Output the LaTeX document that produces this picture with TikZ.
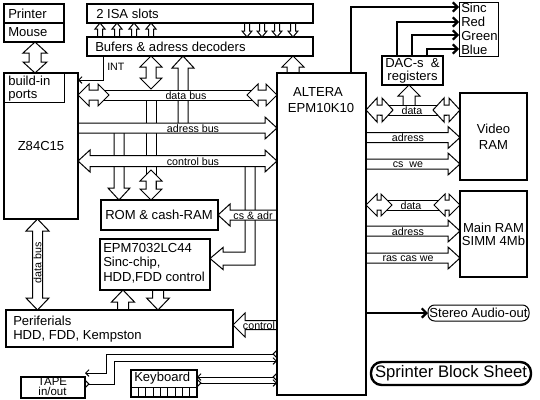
\documentclass[tikz,border=0pt]{standalone}
\usepackage{fontspec}
\setmainfont{Liberation Sans}
\usetikzlibrary{calc,arrows.meta,backgrounds}
% single fat arrow: tail, tip, head length, head half width, shaft half width (px)
\newcommand\fatone[5]{%
  \coordinate (fT) at (#1);
  \coordinate (fH) at (#2);
  \coordinate (fN) at ($(fH)!#3*0.75pt!(fT)$);
  \filldraw[fat] ($(fT)!#5*0.75pt!90:(fH)$) -- ($(fN)!#5*0.75pt!90:(fH)$) -- ($(fN)!#4*0.75pt!90:(fH)$) -- (fH) -- ($(fN)!#4*0.75pt!-90:(fH)$) -- ($(fN)!#5*0.75pt!-90:(fH)$) -- ($(fT)!#5*0.75pt!-90:(fH)$);
}
% double fat arrow: tip P, tip Q, head length, head half width, shaft half width (px)
\newcommand\fattwo[5]{%
  \coordinate (fP) at (#1);
  \coordinate (fQ) at (#2);
  \coordinate (fA) at ($(fP)!#3*0.75pt!(fQ)$);
  \coordinate (fB) at ($(fQ)!#3*0.75pt!(fP)$);
  \filldraw[fat] (fP) -- ($(fA)!#4*0.75pt!90:(fQ)$) -- ($(fA)!#5*0.75pt!90:(fQ)$) -- ($(fB)!#5*0.75pt!-90:(fP)$) -- ($(fB)!#4*0.75pt!-90:(fP)$) -- (fQ) -- ($(fB)!#4*0.75pt!90:(fP)$) -- ($(fB)!#5*0.75pt!90:(fP)$) -- ($(fA)!#5*0.75pt!-90:(fQ)$) -- ($(fA)!#4*0.75pt!-90:(fQ)$) -- cycle;
}
\begin{document}
\begin{tikzpicture}[x=0.75pt,y=-0.75pt,
  tb/.style={draw, line width=1.8pt, inner sep=0pt, outer sep=0pt},
  tn/.style={draw, line width=0.75pt, inner sep=0pt, outer sep=0pt},
  bx/.style 2 args={anchor=north west, minimum width=#1*0.75pt, minimum height=#2*0.75pt},
  lbl/.style={inner sep=0pt, font=\fontsize{9.8}{11}\selectfont},
  slbl/.style={inner sep=0pt, font=\fontsize{8}{9}\selectfont},
  fat/.style={draw, fill=white, line width=0.75pt, line join=miter},
  wire/.style={line width=0.75pt},
  heavy/.style={line width=1.6pt, -{Straight Barb[length=3.5pt 0,width=7pt 0]}},
  >={Straight Barb[length=2.5pt 0,width=5pt 0]}]
\useasboundingbox (0,0) rectangle (540,400);

% ---------- boxes ----------
\node[tb,bx={60}{19}] (printer) at (4,4) {};
\node[tb,bx={60}{19}] (mouse) at (4,23) {};
\node[tb,bx={74}{146},font=\fontsize{9.8}{11}\selectfont] (z84) at (4,73) {Z84C15};
\node[tn,bx={60}{29}] (ports) at (4,73) {};
\node[tb,bx={226}{19}] (isa) at (87,4) {};
\node[tb,bx={226}{19}] (bufers) at (87,37) {};
\node[tb,bx={89}{322}] (altera) at (277,73) {};
\node[tb,bx={117}{30}] (rom) at (101,200) {};
\node[tb,bx={110}{51}] (epm) at (100,239) {};
\node[tb,bx={227}{37}] (peri) at (6,310) {};
\node[tb,bx={64}{21}] (tape) at (21,377) {};
\node[tb,bx={66}{27}] (kbd) at (131,370) {};
\node[tb,bx={67}{87},align=center,font=\fontsize{9.8}{12}\selectfont] (video) at (460,93) {Video\\RAM};
\node[tb,bx={67}{86},align=center,font=\fontsize{9.8}{9.9}\selectfont] (mainram) at (460,191) {Main RAM\\SIMM 4Mb};
\node[tb,bx={61}{29},align=center,font=\fontsize{9.8}{9.8}\selectfont] (dac) at (382,56) {DAC-s\ \ \&\\registers};
\node[tn,bx={39}{54}] (rgb) at (459,2) {};
\node[tn,bx={101}{16},rounded corners=5pt,font=\fontsize{9.8}{11}\selectfont] (stereo) at (428,305) {Stereo Audio-out};
\node[tb,bx={160}{23},rounded corners=8pt,font=\fontsize{12.5}{14}\selectfont] (sprinter) at (371,362) {Sprinter Block Sheet};

% ---------- box texts ----------
\node[lbl,anchor=west] (tprinter) at (8,13.5) {Printer};
\node[lbl,anchor=west] (tmouse) at (8,32.5) {Mouse};
\node[lbl,anchor=west] (tports1) at (8,81) {build-in};
\node[lbl,anchor=west] (tports2) at (8,95.5) {ports};
\node[lbl,anchor=west] (tisa) at (96,14) {2 ISA slots};
\node[lbl,anchor=west] (tbuf) at (95,47) {Bufers \& adress decoders};
\node[lbl] (talt1) at (318,92) {ALTERA};
\node[lbl] (talt2) at (321,108) {EPM10K10};
\node[lbl,anchor=west] (trom) at (105,215) {ROM \& cash-RAM};
\node[lbl,anchor=west] (tepm1) at (103,248) {EPM7032LC44};
\node[lbl,anchor=west] (tepm2) at (103,263) {Sinc-chip,};
\node[lbl,anchor=west] (tepm3) at (103,277.5) {HDD,FDD control};
\node[lbl,anchor=west] (tperi1) at (13,321) {Periferials};
\node[lbl,anchor=west] (tperi2) at (13,336) {HDD, FDD, Kempston};
\node[inner sep=0pt,font=\fontsize{8.6}{9}\selectfont] (ttape1) at (52.5,381.5) {TAPE};
\node[inner sep=0pt,font=\fontsize{8.6}{9}\selectfont] (ttape2) at (52.5,391.5) {in/out};
\node[lbl,anchor=west] (tkbd) at (134,378.5) {Keyboard};
\node[lbl,anchor=west] (tsinc) at (461,8) {Sinc};
\node[lbl,anchor=west] (tred) at (461,22) {Red};
\node[lbl,anchor=west] (tgreen) at (461,36) {Green};
\node[lbl,anchor=west] (tblue) at (461,50) {Blue};

% ---------- connector labels ----------
\node[slbl,anchor=west] (lint) at (107,67) {INT};
\node[slbl] (ldata) at (186,95.5) {data bus};
\node[slbl] (laddr) at (193,128.5) {adress bus};
\node[slbl] (lctrl) at (193,161.5) {control bus};
\node[slbl] (lcsadr) at (253,215.5) {cs \& adr};
\node[slbl] (lperictl) at (259,325.5) {control};
\node[slbl,rotate=90] (lpdata) at (37.5,263) {data bus};
\node[slbl] (lvdata) at (412,110.5) {data};
\node[slbl] (lvaddr) at (408,138) {adress};
\node[slbl] (lvcs) at (408,164.5) {cs\ \ we};
\node[slbl] (lmdata) at (411,205.5) {data};
\node[slbl] (lmaddr) at (408,231.5) {adress};
\node[slbl] (lmras) at (408,258.5) {ras cas we};

% keyboard cells
\draw[wire] (kbd.west |- 0,387) -- (kbd.east |- 0,387);
\foreach \k in {1,...,8} \draw[wire] ({131+\k*66/9},387) -- ({131+\k*66/9},397);

\begin{scope}[on background layer]
\fill[white] (0,0) rectangle (540,400);
% vertical connectors (under the buses)
\fatone{183,123}{bufers.south -| 183,0}{12}{11}{5}
\draw[wire] (146,100) -- (146,190) (156,100) -- (156,190);
\fatone{119,133}{rom.north -| 119,0}{12}{11}{5}
\filldraw[fat] (245,167) -- (245,252) -- (223,252) -- (223,247.5) -- (epm.east |- 0,258.5) -- (223,269.5) -- (223,265) -- (255,265) -- (255,167);
% buses
\fill[white] (98,90) rectangle (258,100);
\draw[wire] (98,90) -- (258,90) (98,100) -- (258,100);
\fatone{z84.east |- 0,128}{altera.west |- 0,128}{12}{11}{5}
\fattwo{z84.east |- 0,161}{altera.west |- 0,161}{12}{11}{5.5}
\fatone{altera.west |- 0,215}{rom.east |- 0,215}{12}{11}{5}
% bus end symbols
\fattwo{z84.east |- 0,95}{109,95}{11}{11}{5}
\fattwo{247,95}{altera.west |- 0,95}{11}{11}{5}
\fattwo{bufers.south -| 151,0}{151,89}{11}{11}{5}
\fattwo{151,170}{rom.north -| 151,0}{11}{11}{5}
% mouse - ports
\fattwo{mouse.south -| 35,0}{ports.north -| 35,0}{11}{12}{6}
% ISA slots
\foreach \xx in {100,117,134,151} {\fatone{bufers.north -| \xx,0}{isa.south -| \xx,0}{6}{5}{2.5}}
\foreach \xx in {247,262,277,293} {\fatone{isa.south -| \xx,0}{bufers.north -| \xx,0}{6}{5}{2.5}}
% INT
\draw[wire,->] (bufers.south -| 103,0) |- (z84.east |- 0,80);
% peripherals
\fattwo{z84.south -| 37.5,0}{peri.north -| 37.5,0}{12}{11.5}{5}
\fatone{epm.south -| 158,0}{peri.north -| 158,0}{12}{11.5}{5.5}
\fatone{peri.north -| 123,0}{epm.south -| 123,0}{12}{11.5}{5.5}
\fatone{altera.west |- 0,325}{peri.east |- 0,325}{12}{12}{4.5}
% altera - bufers
\fatone{altera.north -| 293,0}{bufers.south -| 293,0}{11}{11}{6}
% video signals
\draw[heavy] (altera.north -| 351,0) |- (rgb.west |- 0,7);
\draw[heavy] (dac.north -| 397,0) |- (rgb.west |- 0,22);
\draw[heavy] (dac.north -| 412,0) |- (rgb.west |- 0,35);
\draw[heavy] (dac.north -| 427,0) |- (rgb.west |- 0,49);
\draw[heavy] (altera.east |- 0,313) -- (stereo.west |- 0,313);
% video RAM
\fatone{409,105}{dac.south -| 409,0}{11}{11}{6}
\fill[white] (380,105) rectangle (447,115);
\draw[wire] (380,105) -- (447,105) (380,115) -- (447,115);
\fattwo{altera.east |- 0,110}{393,110}{11}{12}{5}
\fattwo{433,110}{video.west |- 0,110}{11}{12}{5}
\fatone{altera.east |- 0,137.5}{video.west |- 0,137.5}{12}{11}{5}
\fatone{altera.east |- 0,164}{video.west |- 0,164}{12}{11}{5}
% main RAM
\fill[white] (380,200) rectangle (447,210);
\draw[wire] (380,200) -- (447,200) (380,210) -- (447,210);
\fattwo{altera.east |- 0,205}{392,205}{11}{11}{5}
\fattwo{434,205}{mainram.west |- 0,205}{11}{11}{5}
\fatone{altera.east |- 0,231}{mainram.west |- 0,231}{12}{11}{5}
\fatone{altera.east |- 0,258}{mainram.west |- 0,258}{12}{11}{5}
% tape and keyboard
\draw[wire,>->] (altera.west |- 0,354) -| (106,373) -- (tape.east |- 0,373);
\draw[wire,>->] (tape.east |- 0,384) -| (114,361) -- (altera.west |- 0,361);
\draw[wire,>->] (altera.west |- 0,377) -- (kbd.east |- 0,377);
\draw[wire,>->] (kbd.east |- 0,383) -- (altera.west |- 0,383);
\end{scope}
\end{tikzpicture}
\end{document}
